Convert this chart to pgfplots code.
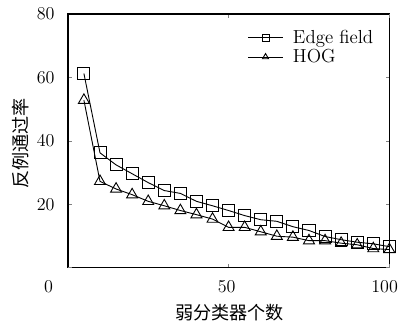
\documentclass[border=0pt]{standalone}
\usepackage{pgfplots}
\pgfplotsset{compat=1.18}
\usepackage{fontspec}
\newfontfamily\cjk{Noto Sans CJK SC}
\begin{document}
\begin{tikzpicture}
\begin{axis}[
  scale only axis,
  width=213.2pt, height=168.2pt,
  clip=false,
  xmin=0, xmax=100, ymin=0, ymax=80,
  xtick={50}, ytick={20,40,60,80},
  extra x ticks={100},
  extra x tick style={xticklabel style={xshift=-1.8pt}},
  extra y ticks={0},
  extra y tick style={yticklabel style={xshift=-1pt, yshift=-12.6pt}},
  tick align=inside,
  major tick length=2.5pt,
  axis line style={line width=0.9pt},
  tick label style={font=\fontsize{11.5}{13.8}\selectfont},
  xticklabel style={anchor=center, yshift=-12.6pt, xshift=-1.3pt},
  yticklabel style={anchor=east, inner sep=0pt, xshift=-8.6pt},
  xlabel={\cjk\large 弱分类器个数},
  ylabel={\cjk\large 反例通过率},
  xlabel style={at={(axis description cs:0.503,-0.177)}, anchor=center},
  ylabel style={at={(axis description cs:-0.1475,0.49)}, anchor=center},
  legend style={at={(axis description cs:0.96,0.95)}, anchor=north east, draw=none, fill=none, font=\fontsize{12.5}{15}\selectfont, inner sep=0pt, row sep=-1.5pt, column sep=4.5pt},
  legend cell align=left,
  legend image code/.code={\draw[mark repeat=2,mark phase=2,mark size=2.3pt] plot coordinates {(0cm,0cm) (0.4cm,0cm) (0.8cm,0cm)};},
  every axis plot/.append style={black, line width=0.6pt},
]
\addplot[mark=square, mark size=4pt, mark options={line width=0.6pt}] coordinates {
(5,61.2) (10,36.2) (15,32.4) (20,29.6) (25,26.8) (30,24.3) (35,23.4) (40,20.9)
(45,19.5) (50,18.0) (55,16.4) (60,15.1) (65,14.6) (70,12.9) (75,11.7) (80,9.8)
(85,8.8) (90,8.0) (95,7.5) (100,6.6)};
\addlegendentry{Edge field}
\addplot[mark=triangle, mark size=4.2pt, mark options={line width=0.6pt}] coordinates {
(5,52.8) (10,27.2) (15,24.8) (20,23.0) (25,20.9) (30,19.5) (35,18.0) (40,16.7)
(45,15.3) (50,12.7) (55,12.7) (60,11.3) (65,9.9) (70,9.6) (75,8.5) (80,8.5)
(85,7.7) (90,7.2) (95,6.0) (100,5.7)};
\addlegendentry{HOG}
\path (rel axis cs:-0.211,-0.224) rectangle (rel axis cs:1.040,1.055);
\end{axis}
\end{tikzpicture}
\end{document}
